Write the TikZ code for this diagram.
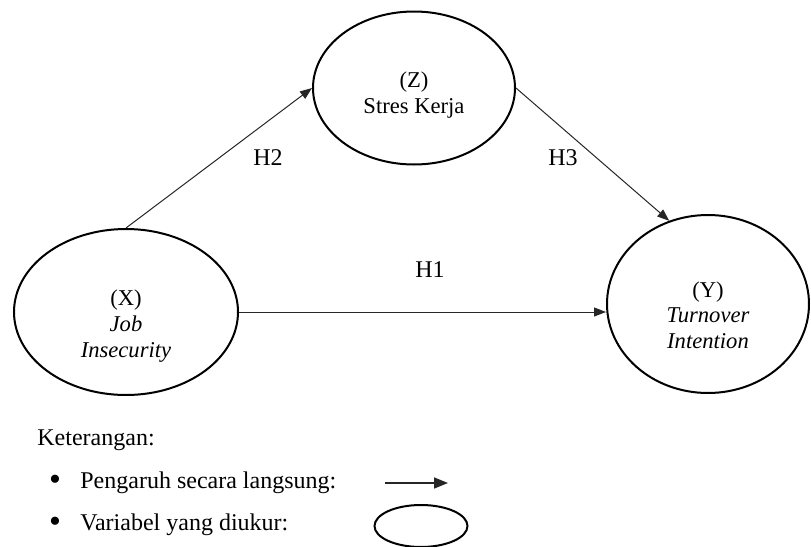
\documentclass[tikz,border=0pt]{standalone}
\usepackage{fontspec}
\setmainfont{Liberation Serif}
\usetikzlibrary{arrows.meta,shapes.geometric}

\begin{document}
\begin{tikzpicture}
[x=0.5pt,y=-0.5pt,%
  arrowDecorate/.style={-{Triangle[length=6pt,width=4.5pt]},line width=0.5pt,black!85},%
  varDecorate/.style={shape=ellipse,draw,line width=1pt,inner sep=0pt},%
  textDecorate/.style={align=center,font=\fontsize{11.3}{12.8}\selectfont},%
  hypDecorate/.style={font=\fontsize{12}{14}\selectfont},%
  legendDecorate/.style={font=\fontsize{12}{14}\selectfont,inner sep=0pt}]
\useasboundingbox (0,0) rectangle (811,547);
%% variables
\foreach \nodename/\x/\y/\w/\h in {X/126/312/112/83, Z/414/88/101/76.5, Y/708/304/101/89}
{
  \node (\nodename) at (\x,\y) [varDecorate,minimum width=\w pt,minimum height=\h pt] {};
}
\node (Xtext) at (126,326) [textDecorate] {(X)\\\textit{Job}\\\textit{Insecurity}};
\node (Ztext) at (414,95) [textDecorate] {(Z)\\Stres Kerja};
\node (Ytext) at (708,315) [textDecorate] {(Y)\\\textit{Turnover}\\\textit{Intention}};
%% hypotheses
\path
(X.north) edge[arrowDecorate] (Z.west)
(Z.east) edge[arrowDecorate] (Y.115)
(X.east) edge[arrowDecorate] (X.east -| Y.west);
\foreach \nodename/\x/\y in {H1/430/270, H2/268/158, H3/563/158}
{
  \node (\nodename) at (\x,\y) [hypDecorate] {\nodename};
}
%% legend
\node (keterangan) at (37,440) [legendDecorate,anchor=west] {Keterangan:};
\foreach \nodename/\y/\txt in {langsung/483/Pengaruh secara langsung:, diukur/525/Variabel yang diukur:}
{
  \node (bullet\nodename) at (55,\y) [legendDecorate,font=\fontsize{17}{17}\selectfont] {\textbullet};
  \node (\nodename) at (80,\y) [legendDecorate,anchor=west] {\txt};
}
\coordinate (legStart) at (385,483);
\coordinate (legEnd) at (448,483);
\draw[arrowDecorate,line width=0.8pt,-{Triangle[length=7pt,width=5.5pt]}] (legStart) -- (legEnd);
\node (legEllipse) at (421,526) [varDecorate,minimum width=46.5pt,minimum height=21pt] {};
\end{tikzpicture}
\end{document}
